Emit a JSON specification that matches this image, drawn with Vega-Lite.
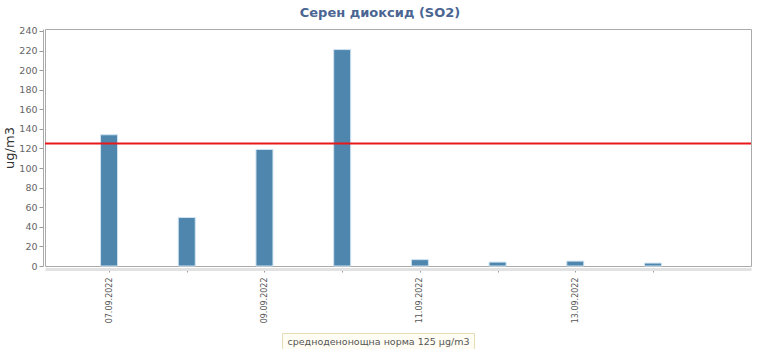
{
  "$schema": "https://vega.github.io/schema/vega-lite/v6.json",
  "width": 706,
  "height": 237,
  "autosize": "none",
  "padding": {"left": 45, "top": 29, "right": 8, "bottom": 83},
  "background": "white",
  "title": {
    "text": "Серен диоксид (SO2)",
    "font": "DejaVu Sans",
    "fontSize": 13,
    "fontWeight": "bold",
    "color": "#4a6592",
    "anchor": "middle",
    "dx": -18,
    "offset": 6
  },
  "config": {
    "view": {"stroke": "#aaaaaa", "strokeWidth": 1},
    "axis": {"labelFont": "DejaVu Sans", "titleFont": "DejaVu Sans", "grid": false},
    "axisY": {"labelOverlap": false},
    "axisX": {"labelOverlap": false}
  },
  "data": {
    "values": [
      {"date": "2022-09-07", "value": 134},
      {"date": "2022-09-08", "value": 49.5},
      {"date": "2022-09-09", "value": 119},
      {"date": "2022-09-10", "value": 221},
      {"date": "2022-09-11", "value": 6.5},
      {"date": "2022-09-12", "value": 4},
      {"date": "2022-09-13", "value": 5},
      {"date": "2022-09-14", "value": 3}
    ]
  },
  "encoding": {
    "y": {
      "field": "value",
      "type": "quantitative",
      "scale": {"domain": [0, 242], "nice": false},
      "axis": {
        "title": "ug/m3",
        "titleFontSize": 13,
        "titleFontWeight": "normal",
        "titleColor": "#333333",
        "titlePadding": 2,
        "values": [0, 20, 40, 60, 80, 100, 120, 140, 160, 180, 200, 220, 240],
        "labelOverlap": false,
        "labelFontSize": 9.5,
        "labelColor": "#666666",
        "domainColor": "#aaaaaa",
        "offset": 2,
        "tickColor": "#999999",
        "tickSize": 4,
        "labelPadding": 2
      }
    }
  },
  "layer": [
    {
      "mark": {"type": "bar", "width": 17, "color": "#4f86ad", "stroke": "#cfe4f2", "strokeWidth": 1},
      "encoding": {
        "x": {
          "field": "date",
          "type": "temporal",
          "scale": {
            "type": "utc",
            "nice": false,
            "padding": 0,
            "domain": [
              {"year": 2022, "month": 9, "date": 6, "hours": 4, "minutes": 13, "utc": true},
              {"year": 2022, "month": 9, "date": 15, "hours": 6, "minutes": 16, "utc": true}
            ]
          },
          "axis": {
            "title": null,
            "values": [
              {"year": 2022, "month": 9, "date": 7, "utc": true},
              {"year": 2022, "month": 9, "date": 8, "utc": true},
              {"year": 2022, "month": 9, "date": 9, "utc": true},
              {"year": 2022, "month": 9, "date": 10, "utc": true},
              {"year": 2022, "month": 9, "date": 11, "utc": true},
              {"year": 2022, "month": 9, "date": 12, "utc": true},
              {"year": 2022, "month": 9, "date": 13, "utc": true},
              {"year": 2022, "month": 9, "date": 14, "utc": true}
            ],
            "labelExpr": "utcdate(datum.value) % 2 == 1 ? utcFormat(datum.value, '%d.%m.%Y') : ''",
            "labelAngle": 270,
            "labelAlign": "right",
            "labelBaseline": "middle",
            "labelFontSize": 8,
            "labelColor": "#555555",
            "labelPadding": 5,
            "domainColor": "#e2e2e2",
            "domainWidth": 3,
            "offset": 3,
            "tickColor": "#999999",
            "tickSize": 3,
            "labelOverlap": false
          }
        }
      }
    },
    {
      "data": {"values": [{"value": 125}]},
      "mark": {"type": "rule", "strokeWidth": 2},
      "encoding": {
        "color": {
          "datum": "средноденонощна норма 125 µg/m3",
          "type": "nominal",
          "scale": {"range": ["#e8181b"]},
          "legend": {
            "title": null,
            "orient": "none",
            "legendX": 237,
            "legendY": 304,
            "symbolType": "circle",
            "symbolSize": 0,
            "symbolOpacity": 0,
            "symbolStrokeWidth": 0,
            "labelOffset": -8,
            "labelFont": "DejaVu Sans",
            "labelFontSize": 9.5,
            "labelColor": "#555555",
            "labelLimit": 400,
            "padding": 4,
            "fillColor": "#fffdf3",
            "strokeColor": "#e6dcb6"
          }
        }
      }
    }
  ]
}
